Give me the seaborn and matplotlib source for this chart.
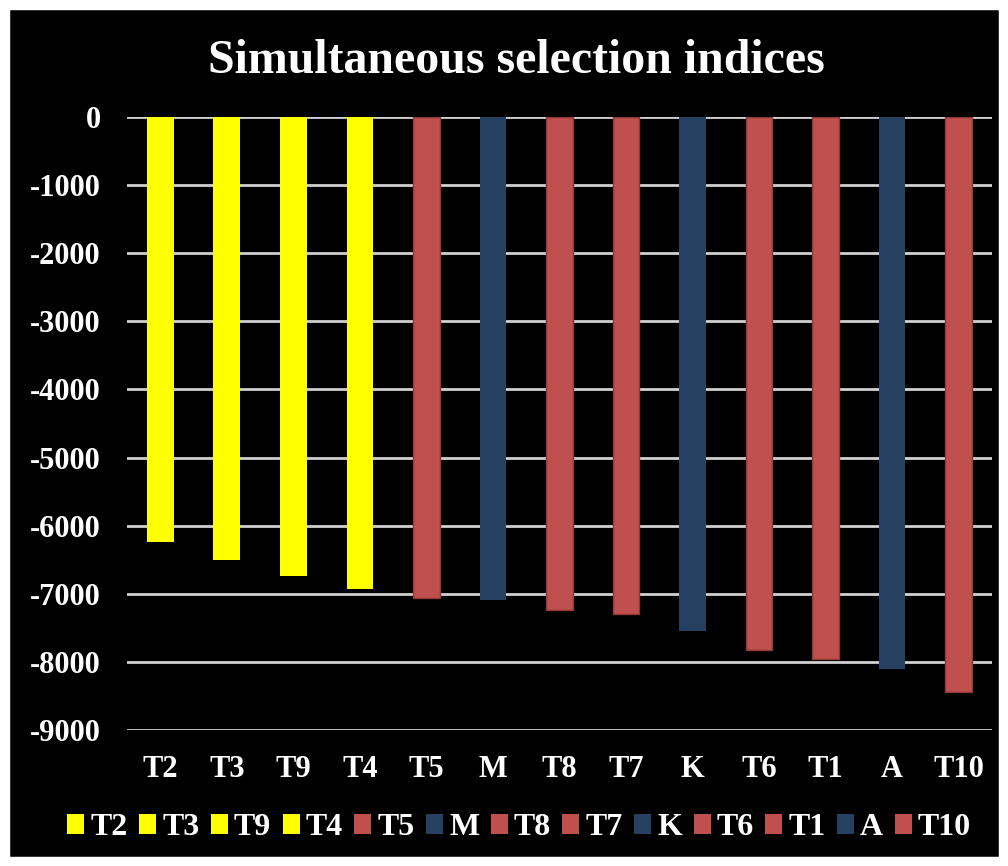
import matplotlib
matplotlib.use("Agg")
import matplotlib.pyplot as plt
import matplotlib.patches as mpatches
import seaborn as sns
import pandas as pd

# valores
genotypes = ["T2", "T3", "T9", "T4", "T5", "M", "T8", "T7", "K", "T6", "T1", "A", "T10"]
index_values = [-6235, -6500, -6735, -6925, -7055, -7090, -7245, -7290, -7540, -7830, -7950, -8110, -8440]
bar_colors = ["#FFFF00", "#FFFF00", "#FFFF00", "#FFFF00", "#C0504D", "#254061", "#C0504D",
              "#C0504D", "#254061", "#C0504D", "#C0504D", "#254061", "#C0504D"]
y_ticks = [0, -1000, -2000, -3000, -4000, -5000, -6000, -7000, -8000, -9000]

df = pd.DataFrame({"genotype": genotypes, "value": index_values})
palette = dict(zip(genotypes, bar_colors))

sns.set_style("dark")
plt.rcParams["font.family"] = ["Liberation Serif", "DejaVu Serif"]
plt.rcParams["font.weight"] = "bold"

fig = plt.figure(figsize=(10.08, 8.66), dpi=100)
fig.patch.set_facecolor("black")
# marco blanco
fig.patches.append(mpatches.Rectangle((0, 0), 1, 1, transform=fig.transFigure,
                                      fill=False, edgecolor="white", linewidth=14, zorder=10))

ax = fig.add_axes([0.126, 0.157, 0.858, 0.708])
ax.set_facecolor("black")

sns.barplot(data=df, x="genotype", y="value", hue="genotype", palette=palette,
            order=genotypes, hue_order=genotypes, width=0.4, legend=False, ax=ax,
            saturation=1, linewidth=0)

# borde fino en las barras rojas
for patch, c in zip(ax.patches, bar_colors):
    if c == "#C0504D":
        patch.set_edgecolor("#8C3836")
        patch.set_linewidth(1.0)

ax.set_ylim(-9000, 0)
ax.set_xlim(-0.5, len(genotypes) - 0.5)
ax.set_yticks(y_ticks)
ax.set_yticklabels([str(v) for v in y_ticks])
ax.grid(axis="y", color="#D0D0D0", linewidth=2)
ax.grid(axis="x", visible=False)
ax.set_axisbelow(True)
for s in ax.spines.values():
    s.set_visible(False)
ax.tick_params(axis="both", length=0, colors="white", labelsize=22)
ax.tick_params(axis="y", pad=19)
ax.tick_params(axis="x", pad=18)
for lbl in ax.get_xticklabels() + ax.get_yticklabels():
    lbl.set_fontweight("bold")
ax.set_xlabel("")
ax.set_ylabel("")

fig.text(0.512, 0.9157, "Simultaneous selection indices", ha="center", va="baseline",
         color="white", fontsize=34.5, fontweight="bold")

handles = [mpatches.Patch(facecolor=c, edgecolor="none") for c in bar_colors]
leg = fig.legend(handles, genotypes, loc="center", bbox_to_anchor=(0.515, 0.044),
                 ncol=len(genotypes), frameon=False, handlelength=0.53, handleheight=0.6,
                 handletextpad=0.19, columnspacing=0.36, prop={"size": 23, "weight": "bold"})
for t in leg.get_texts():
    t.set_color("white")

fig.savefig("out.png", dpi=100, facecolor=fig.get_facecolor())
